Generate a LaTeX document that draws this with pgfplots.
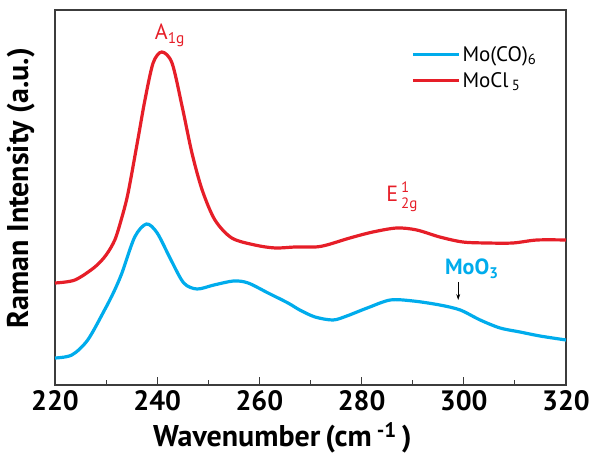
\documentclass[border=0pt]{standalone}
\usepackage{fontspec}
\setmainfont{PT Sans}
\usepackage{pgfplots}
\pgfplotsset{compat=1.18}
\usetikzlibrary{arrows.meta}
\definecolor{cred}{RGB}{230,30,40}
\definecolor{cblue}{RGB}{0,172,236}
\definecolor{axgray}{RGB}{60,60,60}
\begin{document}
\begin{tikzpicture}
\begin{axis}[
    scale only axis,
    width=511pt, height=375pt,
    xmin=220, xmax=320,
    ymin=0, ymax=375,
    xtick={220,240,...,320},
    minor x tick num=1,
    ytick=\empty,
    xtick pos=left,
    tick align=inside,
    major tick length=8pt,
    minor tick length=4.5pt,
    axis line style={axgray, line width=1.2pt},
    every tick/.style={axgray, line width=1pt},
    /pgf/number format/assume math mode=true,
    xticklabel style={font=\fontsize{28}{30}\selectfont\bfseries, yshift=-2pt},
    xlabel={Wavenumber\,(cm\,\textsuperscript{-1}\,)},
    xlabel style={font=\fontsize{30}{32}\selectfont\bfseries, at={(axis description cs:0.445,0)}, anchor=north, yshift=-34pt},
    ylabel={Raman Intensity (a.u.)},
    ylabel style={font=\fontsize{30}{32}\selectfont\bfseries, at={(axis description cs:-0.033,0.525)}, anchor=south, rotate=0},
    legend style={draw=none, fill=none, at={(axis description cs:0.691,0.915)}, anchor=north west,
        font=\fontsize{21}{25}\selectfont, row sep=6pt},
    legend cell align=left,
    legend image code/.code={\draw[#1] (0pt,0pt) -- (46pt,0pt);},
]
% Mo(CO)6
\addplot[cblue, line width=3.2pt, smooth, tension=0.5] coordinates {
(220,27) (223.3,30) (226.4,45) (229.7,75) (231.5,93) (233.1,112) (235.6,148) (237.9,161)
(240.0,152) (242.7,125) (245.2,102) (247.8,96) (251.1,100) (255.0,104) (257.8,102)
(261.7,92) (265.6,82) (267.9,75) (270.9,68) (274.4,65) (277.1,69) (281.1,77)
(285.6,85) (290.1,84) (295.3,80) (299.3,75) (303.2,65) (307.1,57) (311.0,53)
(314.9,49) (320,45)
};
\addlegendentry{Mo(CO)\textsubscript{6}}
% MoCl5
\addplot[cred, line width=3.2pt, smooth, tension=0.5] coordinates {
(220,102) (223.9,105) (227.8,118) (230.0,130) (231.7,145) (233.0,166) (234.3,192) (236.2,245) (237.6,285)
(239.2,322) (240.9,333) (242.9,322) (244.9,278) (246.8,232) (248.8,195) (251.3,165)
(254.6,147) (259.1,140) (263.1,137) (267.0,138) (270.9,138) (273.2,140) (277.7,147)
(282.2,153) (286.9,157) (290.8,155) (295.3,148) (299.8,143) (304.5,142) (309.6,142)
(314.3,145) (320,145)
};
\addlegendentry{MoCl\,\textsubscript{5}}
% labels
\node[cred, anchor=base, font=\fontsize{22}{24}\selectfont] at (axis cs:242.5,345) {A\textsubscript{1g}};
\node[cred, anchor=base west, font=\fontsize{22}{24}\selectfont, inner sep=0pt] at (axis cs:284.8,183)
  {E\hspace{3pt}\rlap{\raisebox{9pt}{\fontsize{15}{15}\selectfont 1}}\raisebox{-7pt}{\fontsize{15}{15}\selectfont 2g}};
\node[cblue, anchor=base west, font=\fontsize{22}{24}\selectfont\bfseries, inner sep=0pt] at (axis cs:296.3,110) {MoO\textsubscript{3}};
\draw[-{Stealth[length=6pt,width=4pt]}, line width=0.8pt, black] (axis cs:298.9,103) -- (axis cs:298.9,85);
\end{axis}
\pgfresetboundingbox
\path (-55pt,-69pt) rectangle (537pt,385pt);
\end{tikzpicture}
\end{document}
